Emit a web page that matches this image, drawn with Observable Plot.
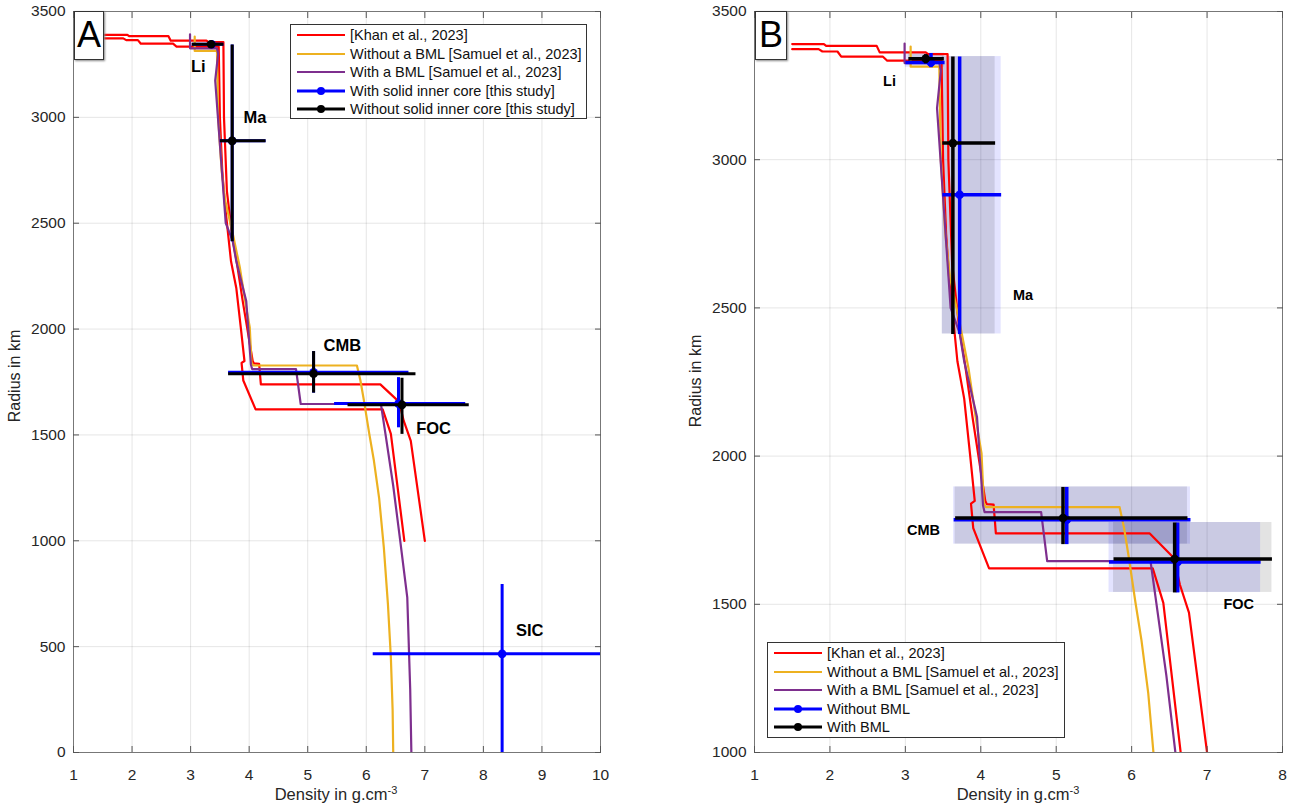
<!DOCTYPE html>
<html><head><meta charset="utf-8">
<script src="https://cdn.jsdelivr.net/npm/d3@7"></script>
<script src="https://cdn.jsdelivr.net/npm/@observablehq/plot@0.6"></script>
<style>
body{margin:0;background:#fff;font-family:"Liberation Sans",Arial,sans-serif;}
#wrap{position:relative;width:1300px;height:812px;overflow:hidden;background:#fff;}
.panel{position:absolute;top:0;}
.tag{position:absolute;background:#fff;border:1px solid #333;box-shadow:1px 1px 2px #888;font-size:36px;line-height:46px;text-align:center;color:#000;}
.legend{position:absolute;background:#fff;border:1px solid #333;font-size:14.5px;color:#111;box-sizing:border-box;padding-top:1px;}
.row{height:18.5px;display:flex;align-items:center;white-space:nowrap;}
.row svg{margin-left:6px;margin-right:5px;flex:none;}
.xlab{position:absolute;font-size:16.5px;line-height:1;text-align:center;color:#262626;}
.xlab sup{font-size:11px;vertical-align:6px;line-height:0;}
.ylab{position:absolute;width:200px;height:20px;line-height:20px;font-size:16px;text-align:center;color:#262626;transform:rotate(-90deg);}
</style>
</head><body>
<div id="wrap">
  <div id="pa" class="panel" style="left:0px"></div>
  <div id="pb" class="panel" style="left:650px"></div>
</div>
<script>
// ---------------- data ----------------
// axis ticks
const xTicksA = [1,2,3,4,5,6,7,8,9,10];
const yTicksA = [0,500,1000,1500,2000,2500,3000,3500];
const xTicksB = [1,2,3,4,5,6,7,8];
const yTicksB = [1000,1500,2000,2500,3000,3500];

// density profiles [density g/cm3, radius km]
const khan1 = [[1.50,3373],[1.85,3373],[1.90,3365],[2.10,3365],[2.15,3348],[2.70,3348],[2.76,3334],[3.48,3334],
  [3.50,3000],[3.54,2750],[3.58,2604],[3.69,2320],[3.78,2194],[3.86,2000],[3.92,1849],[3.87,1840],[3.90,1757],
  [4.11,1621],[6.28,1621],[6.42,1505],[6.65,1000]];
const khan2 = [[1.50,3390],[1.92,3390],[1.95,3384],[2.62,3384],[2.66,3362],[3.27,3362],[3.30,3356],[3.56,3356],
  [3.57,3000],[3.62,2650],[3.72,2420],[3.78,2330],[3.89,2132],[4.06,1849],[4.08,1838],[4.17,1836],[4.20,1739],
  [6.24,1739],[6.56,1656],[6.64,1566],[6.76,1472],[7.00,1000]];
const samuelNoBML = [[3.07,3382],[3.07,3314],[3.45,3314],[3.47,3000],[3.53,2750],[3.59,2607],[3.72,2450],[3.84,2292],
  [3.95,2100],[4.01,2009],[4.04,1840],[4.07,1828],[5.84,1828],[5.90,1757],[5.96,1662],[6.05,1507],[6.13,1379],
  [6.22,1200],[6.30,968],[6.37,700],[6.42,448],[6.45,200],[6.46,0]];
const samuelBML = [[2.99,3392],[2.99,3326],[3.45,3326],[3.47,3300],[3.42,3174],[3.52,2800],[3.60,2500],[3.72,2415],
  [3.78,2320],[3.95,2132],[4.03,1833],[4.05,1811],[4.80,1811],[4.88,1646],[6.25,1646],[6.33,1500],[6.46,1260],
  [6.58,1000],[6.70,733],[6.75,300],[6.77,0]];

// this-study estimates: [density, radius, densityLow, densityHigh, radiusLow, radiusHigh]
const withSIC_A = [
  [3.36,3345,3.02,3.56,3345,3345],
  [3.71,2889,3.50,4.28,2415,3344],
  [5.10,1796,3.64,6.72,1700,1896],
  [6.55,1648,5.45,7.69,1536,1773],
  [8.32,466,6.11,10.6,0,796]
];
const noSIC_A = [
  [3.35,3345,3.02,3.56,3345,3345],
  [3.71,2889,3.50,4.28,2415,3344],
  [5.10,1789,3.64,6.84,1700,1896],
  [6.61,1642,5.68,7.75,1505,1770]
];
const noBML_B = [
  [3.34,3328,3.00,3.52,3312,3360],
  [3.72,2882,3.49,4.27,2412,3348],
  [5.14,1785,3.64,6.78,1703,1896],
  [6.61,1643,5.70,7.71,1540,1776]
];
const BML_B = [
  [3.27,3341,3.04,3.51,3325,3356],
  [3.63,3056,3.49,4.19,2412,3348],
  [5.09,1791,3.66,6.74,1703,1896],
  [6.57,1653,5.76,7.86,1540,1776]
];

// annotation labels [text, density, radius]
const labelsA = [["Li",3.13,3239],["Ma",4.10,2998],["CMB",5.59,1921],["FOC",7.15,1529],["SIC",8.79,575]];
const labelsB = [["Li",2.79,3264],["Ma",4.56,2543],["CMB",3.24,1751],["FOC",7.42,1499]];

const legendA = ["[Khan et al., 2023]","Without a BML [Samuel et al., 2023]","With a BML [Samuel et al., 2023]","With solid inner core [this study]","Without solid inner core [this study]"];
const legendB = ["[Khan et al., 2023]","Without a BML [Samuel et al., 2023]","With a BML [Samuel et al., 2023]","Without BML","With BML"];

// ---------------- helpers ----------------
const RED = "#ff0000", ORANGE = "#EDB120", PURPLE = "#7E2F8E", BLUE = "#0000ff", BLACK = "#000000";
const pts = a => a.map(([d, r]) => ({d, r}));
const crosses = a => a.map(([d, r, dmin, dmax, rmin, rmax]) => ({d, r, dmin, dmax, rmin, rmax}));
const labs = a => a.map(([t, d, r]) => ({t, d, r}));

function profileMarks() {
  return [
    Plot.line(pts(khan1), {x: "d", y: "r", stroke: RED, strokeWidth: 2.2, clip: true}),
    Plot.line(pts(khan2), {x: "d", y: "r", stroke: RED, strokeWidth: 2.2, clip: true}),
    Plot.line(pts(samuelNoBML), {x: "d", y: "r", stroke: ORANGE, strokeWidth: 2.2, clip: true}),
    Plot.line(pts(samuelBML), {x: "d", y: "r", stroke: PURPLE, strokeWidth: 2.2, clip: true})
  ];
}
function crossMarks(rows, color, w, dotR) {
  return [
    Plot.link(rows, {x1: "dmin", x2: "dmax", y1: "r", y2: "r", stroke: color, strokeWidth: w, clip: true}),
    Plot.link(rows.filter(c => c.rmax > c.rmin), {x1: "d", x2: "d", y1: "rmin", y2: "rmax", stroke: color, strokeWidth: w, clip: true}),
    Plot.dot(rows, {x: "d", y: "r", r: dotR, fill: color, stroke: null, clip: true})
  ];
}
function axes(xT, yT) {
  return [
    Plot.frame({stroke: "#777", strokeWidth: 1}),
    Plot.axisX(xT, {anchor: "bottom", tickSize: -6, tickPadding: 22, label: null, tickFormat: d => String(d), stroke: "#555", fill: "#262626"}),
    Plot.axisX(xT, {anchor: "top", tickSize: -6, label: null, tickFormat: () => "", stroke: "#555"}),
    Plot.axisY(yT, {anchor: "left", tickSize: -6, tickPadding: 14, label: null, tickFormat: d => String(d), stroke: "#555", fill: "#262626"}),
    Plot.axisY(yT, {anchor: "right", tickSize: -6, label: null, tickFormat: () => "", stroke: "#555"})
  ];
}
function grids(xT, yT) {
  return [
    Plot.gridX(xT, {stroke: "#000", strokeOpacity: 0.1}),
    Plot.gridY(yT, {stroke: "#000", strokeOpacity: 0.1})
  ];
}
const baseStyle = {fontFamily: "'Liberation Sans', Arial, sans-serif", fontSize: "15.5px", background: "white", color: "#262626"};

// ---------------- panel A ----------------
const cA1 = crosses(withSIC_A), cA2 = crosses(noSIC_A);
const plotA = Plot.plot({
  width: 650, height: 812, marginTop: 11, marginBottom: 60, marginLeft: 73, marginRight: 50,
  style: baseStyle,
  x: {domain: [1, 10]}, y: {domain: [0, 3500]},
  marks: [
    ...grids(xTicksA, yTicksA),
    ...profileMarks(),
    ...crossMarks(cA1, BLUE, 3, 4.3),
    ...crossMarks(cA2, BLACK, 3, 4.3),
    Plot.text(labs(labelsA), {x: "d", y: "r", text: "t", fontWeight: "bold", fontSize: 16.5, fill: "#000"}),
    ...axes(xTicksA, yTicksA)
  ]
});
document.getElementById("pa").appendChild(plotA);

// ---------------- panel B ----------------
const cB1 = crosses(noBML_B), cB2 = crosses(BML_B);
const plotB = Plot.plot({
  width: 650, height: 812, marginTop: 11, marginBottom: 60, marginLeft: 104, marginRight: 18,
  style: baseStyle,
  x: {domain: [1, 8]}, y: {domain: [1000, 3500]},
  marks: [
    ...grids(xTicksB, yTicksB),
    Plot.rect(cB1, {x1: "dmin", x2: "dmax", y1: "rmin", y2: "rmax", fill: BLUE, fillOpacity: 0.11}),
    Plot.rect(cB2, {x1: "dmin", x2: "dmax", y1: "rmin", y2: "rmax", fill: BLACK, fillOpacity: 0.11}),
    ...profileMarks(),
    ...crossMarks(cB1, BLUE, 3.5, 4.3),
    ...crossMarks(cB2, BLACK, 3.5, 4.3),
    Plot.text(labs(labelsB), {x: "d", y: "r", text: "t", fontWeight: "bold", fontSize: 14.5, fill: "#000"}),
    ...axes(xTicksB, yTicksB)
  ]
});
document.getElementById("pb").appendChild(plotB);

// ---------------- overlays: tags, legends, axis labels ----------------
const wrap = document.getElementById("wrap");
function addDiv(cls, style, html) {
  const d = document.createElement("div");
  d.className = cls; d.setAttribute("style", style); d.innerHTML = html;
  wrap.appendChild(d); return d;
}
addDiv("tag", "left:74px;top:11px;width:28px;height:47px;", "A");
addDiv("tag", "left:755px;top:11px;width:30px;height:47px;", "B");

const swatchColors = [RED, ORANGE, PURPLE, BLUE, BLACK];
function swatch(color, marker) {
  return `<svg width="48" height="10"><line x1="0" y1="5" x2="48" y2="5" stroke="${color}" stroke-width="${marker ? 3 : 2.2}"/>` +
    (marker ? `<circle cx="24" cy="5" r="4" fill="${color}"/>` : "") + `</svg>`;
}
function legend(labels, style) {
  const html = labels.map((t, i) => `<div class="row">${swatch(swatchColors[i], i >= 3)}<span>${t}</span></div>`).join("");
  addDiv("legend", style, html);
}
legend(legendA, "left:290px;top:24px;width:297px;height:95px;");
legend(legendB, "left:767px;top:642px;width:298px;height:96px;");

addDiv("xlab", "left:186px;top:786px;width:300px;", "Density in g.cm<sup>-3</sup>");
addDiv("xlab", "left:868px;top:786px;width:300px;", "Density in g.cm<sup>-3</sup>");
addDiv("ylab", "left:-85px;top:366px;", "Radius in km");
addDiv("ylab", "left:596px;top:371px;", "Radius in km");
</script>
</body></html>
